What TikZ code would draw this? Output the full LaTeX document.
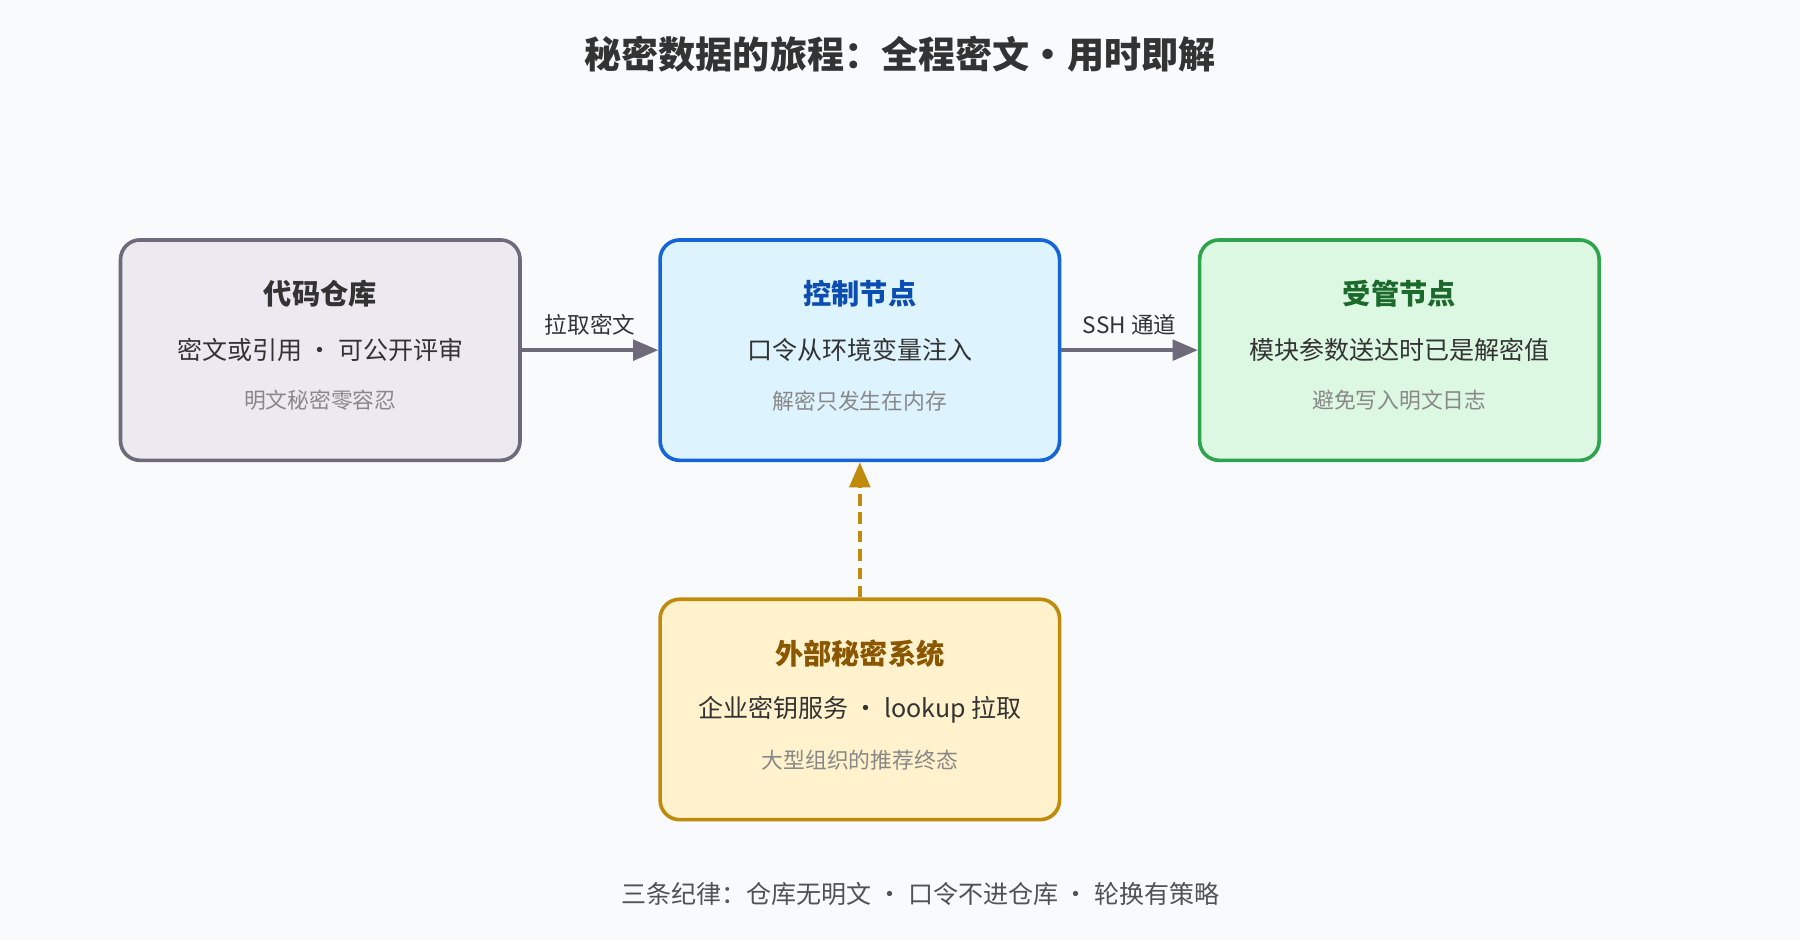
\documentclass[tikz,border=0pt]{standalone}
\usepackage{fontspec}
\setmainfont{Noto Sans CJK SC}
\usetikzlibrary{arrows.meta,positioning}
\definecolor{bgc}{HTML}{F8FAFC}
\definecolor{repoF}{HTML}{ECEAF0}\definecolor{repoD}{HTML}{6E6A7C}
\definecolor{ctrlF}{HTML}{DDF3FD}\definecolor{ctrlD}{HTML}{1565D8}\definecolor{ctrlT}{HTML}{0B4DB0}
\definecolor{hostF}{HTML}{DCF8E2}\definecolor{hostD}{HTML}{2EA44F}\definecolor{hostT}{HTML}{1B6A2C}
\definecolor{vaultF}{HTML}{FFF2CC}\definecolor{vaultD}{HTML}{C08A0C}\definecolor{vaultT}{HTML}{8A5700}
\definecolor{txt}{HTML}{333333}\definecolor{subt}{HTML}{888888}
\begin{document}
\begin{tikzpicture}[thick,
    box/.style={draw,line width=0.9pt,rounded corners=0.17cm,minimum width=3.48cm,minimum height=1.92cm},
    head/.style={font=\bfseries\fontsize{7}{8}\selectfont},
    line/.style={font=\fontsize{6.2}{7}\selectfont,text=txt},
    note/.style={font=\fontsize{5.4}{6}\selectfont,text=subt},
    flow/.style={draw=repoD,line width=0.9pt,-{Triangle[length=0.22cm,width=0.18cm]}},
    lbl/.style={font=\fontsize{5.6}{6}\selectfont,text=txt,above}]
    \fill[bgc] (0,0) rectangle (15.68,-8.19);
    \node[font=\bfseries\fontsize{9.2}{10}\selectfont,text=txt] (title) at (7.84,-0.47) {秘密数据的旅程：全程密文・用时即解};

    \node[box,draw=repoD,fill=repoF] at (2.79,-3.05) (repo) {};
    \node[box,draw=ctrlD,fill=ctrlF] at (7.49,-3.05) (ctrl) {};
    \node[box,draw=hostD,fill=hostF] at (12.19,-3.05) (host) {};
    \node[box,draw=vaultD,fill=vaultF] at (7.49,-6.18) (vault) {};

    \node[head,text=txt] at (2.79,-2.56) (repoa) {代码仓库};
    \node[line] at (2.79,-3.05) (repob) {密文或引用 · 可公开评审};
    \node[note] at (2.79,-3.49) (repoc) {明文秘密零容忍};
    \node[head,text=ctrlT] at (7.49,-2.56) (ctrla) {控制节点};
    \node[line] at (7.49,-3.05) (ctrlb) {口令从环境变量注入};
    \node[note] at (7.49,-3.49) (ctrlc) {解密只发生在内存};
    \node[head,text=hostT] at (12.19,-2.56) (hosta) {受管节点};
    \node[line] at (12.19,-3.05) (hostb) {模块参数送达时已是解密值};
    \node[note] at (12.19,-3.49) (hostc) {避免写入明文日志};
    \node[head,text=vaultT] at (7.49,-5.69) (vaulta) {外部秘密系统};
    \node[line] at (7.49,-6.18) (vaultb) {企业密钥服务 · lookup 拉取};
    \node[note] at (7.49,-6.62) (vaultc) {大型组织的推荐终态};

    \draw[flow] (repo) -- node[lbl] {拉取密文} (ctrl);
    \draw[flow] (ctrl) -- node[lbl] {SSH 通道} (host);
    \draw[flow,draw=vaultD,dashed,dash pattern=on 0.1cm off 0.06cm] (vault) -- (ctrl);

    \node[line,text=txt!85] at (8.02,-7.79) (rules) {三条纪律：仓库无明文 · 口令不进仓库 · 轮换有策略};
\end{tikzpicture}
\end{document}
